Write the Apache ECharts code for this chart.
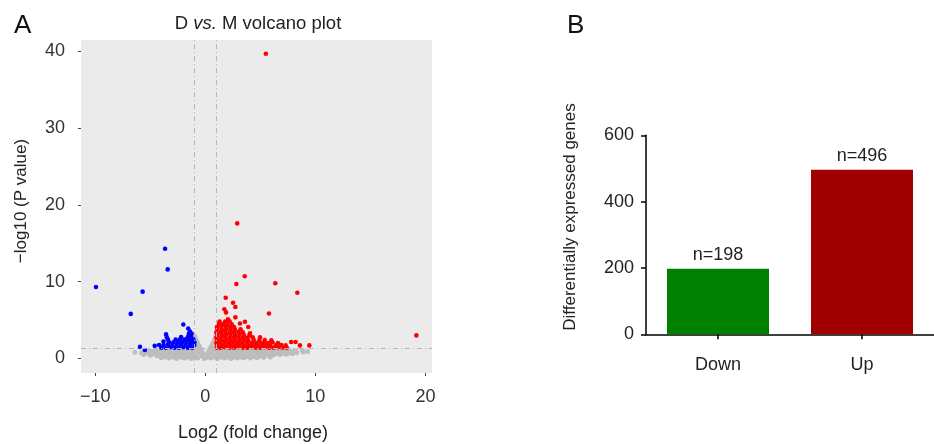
<!DOCTYPE html>
<html>
<head>
<meta charset="utf-8">
<script src="https://cdn.jsdelivr.net/npm/echarts@6/dist/echarts.min.js"></script>
<style>
html,body{margin:0;padding:0;background:#fff;}
#c{width:934px;height:444px;}
</style>
</head>
<body>
<div id="c"></div>
<script>
// ---- Panel A: volcano plot data (log2 fold change, -log10 P) ----
var upPts = [
  [5.5,39.7],[2.9,17.6],[3.58,10.7],[2.82,9.7],[6.36,9.8],[8.36,8.55],[1.85,7.9],[2.52,7.25],
  [2.73,6.7],[1.73,6.4],[1.88,6.0],[2.73,5.35],[5.78,5.85],[19.18,3.0],
  [1.05,1.4],[1.4,1.4],[1.8,1.45],[2.2,1.4],[2.6,1.4],[3.0,1.45],[3.4,1.4],[3.8,1.4],[4.2,1.45],[4.6,1.4],
  [5.0,1.4],[5.4,1.45],[5.8,1.4],[6.2,1.4],[6.6,1.45],[7.0,1.4],[7.4,1.4],
  [1.1,1.7],[1.5,1.7],[1.9,1.75],[2.3,1.7],[2.7,1.7],[3.1,1.75],[3.5,1.7],[3.9,1.7],[4.3,1.75],[4.7,1.7],
  [5.1,1.7],[5.5,1.75],[5.9,1.7],[6.4,1.7],[6.9,1.75],[7.3,1.7],[8.6,1.7],[9.45,1.7],
  [1.0,2.0],[1.35,2.05],[1.75,2.0],[2.15,2.0],[2.55,2.05],[2.95,2.0],[3.35,2.0],[3.8,2.05],[4.2,2.0],
  [4.6,2.0],[5.0,2.05],[5.3,2.0],[5.7,2.0],[6.1,2.1],[6.6,2.0],[7.8,2.15],[8.2,2.15],
  [1.1,2.35],[1.5,2.35],[1.9,2.4],[2.3,2.35],[2.7,2.35],[3.1,2.4],[3.5,2.35],[3.9,2.35],[4.4,2.4],[4.9,2.35],
  [5.4,2.4],[6.0,2.35],
  [1.0,2.7],[1.4,2.7],[1.8,2.75],[2.2,2.7],[2.6,2.7],[3.0,2.75],[3.4,2.7],[3.8,2.7],[4.3,2.75],[4.97,2.74],
  [1.1,3.05],[1.5,3.05],[1.9,3.1],[2.3,3.05],[2.7,3.05],[3.1,3.1],[3.5,3.05],[4.0,3.0],
  [1.0,3.4],[1.4,3.4],[1.8,3.45],[2.2,3.4],[2.6,3.4],[3.0,3.45],[3.4,3.4],[4.06,3.26],
  [1.1,3.75],[1.5,3.75],[1.9,3.8],[2.3,3.75],[2.7,3.75],[3.2,3.8],
  [1.05,4.1],[1.45,4.1],[1.85,4.15],[2.25,4.1],[2.6,4.1],[3.9,4.1],
  [1.2,4.45],[1.6,4.45],[2.0,4.5],[2.4,4.45],[3.15,4.56],
  [1.3,4.8],[1.8,4.8],[2.2,4.85],[3.6,4.77],[2.06,5.1]
];
var downPts = [
  [-9.94,9.3],[-3.66,14.3],[-3.42,11.6],[-5.7,8.7],[-6.78,5.8],[-2.0,4.43],[-1.55,3.9],[-3.57,3.13],
  [-5.94,1.5],[-5.5,1.1],[-4.6,1.64],
  [-4.0,1.4],[-3.6,1.4],[-3.2,1.45],[-2.8,1.4],[-2.4,1.4],[-2.0,1.45],[-1.6,1.4],[-1.2,1.4],
  [-4.2,1.75],[-3.8,1.75],[-3.4,1.8],[-3.0,1.75],[-2.6,1.75],[-2.2,1.8],[-1.8,1.75],[-1.4,1.75],[-1.0,1.75],
  [-3.8,2.2],[-3.3,2.1],[-2.9,2.1],[-2.5,2.15],[-2.1,2.1],[-1.7,2.1],[-1.3,2.15],[-1.0,2.1],
  [-3.4,2.45],[-2.7,2.45],[-2.3,2.5],[-1.9,2.45],[-1.5,2.45],[-1.1,2.5],
  [-3.5,2.75],[-2.2,2.8],[-1.6,2.8],[-1.3,2.85],
  [-1.5,3.2],[-1.25,3.25],[-1.4,3.5]
];
var nsPts = [
  [-4.0,0.1],[-3.3,0.05],[-2.6,0.0],[-1.9,0.05],[-1.3,0.0],[-0.7,0.05],[-0.1,0.0],[0.5,0.05],[1.1,0.0],
  [1.7,0.05],[2.3,0.0],[2.9,0.05],[3.5,0.1],[4.1,0.05],[4.7,0.1],[5.3,0.15],[5.9,0.2],
  [-3.6,0.2],[-2.9,0.2],[-2.2,0.2],[-1.6,0.2],[-1.0,0.2],[0.2,0.15],[0.8,0.2],[1.4,0.2],[2.0,0.2],
  [2.6,0.2],[3.2,0.2],[3.8,0.25],[4.4,0.25],[5.0,0.3],
  [-5.6,0.5],[-5.0,0.4],[-4.4,0.35],[-3.8,0.4],[-3.2,0.35],[-2.6,0.4],[-2.0,0.35],[-1.4,0.4],[-0.8,0.35],
  [-0.3,0.3],[0.3,0.3],[0.8,0.35],[1.4,0.4],[2.0,0.35],[2.6,0.4],[3.2,0.35],[3.8,0.4],[4.4,0.35],[5.0,0.4],
  [5.6,0.45],[6.2,0.45],[6.8,0.5],[7.4,0.55],
  [-4.8,0.55],[-4.1,0.55],[-3.5,0.55],[-2.9,0.55],[-2.3,0.55],[-1.7,0.55],[-1.1,0.55],[1.2,0.55],[1.8,0.55],
  [2.4,0.55],[3.0,0.55],[3.6,0.55],[4.2,0.55],[4.8,0.6],[5.4,0.6],[6.0,0.6],[6.6,0.65],[7.2,0.65],[7.9,0.6],
  [-6.4,0.8],[-5.8,0.75],[-5.2,0.7],[-4.6,0.75],[-4.0,0.7],[-3.4,0.75],[-2.8,0.7],[-2.2,0.75],[-1.6,0.7],
  [-1.1,0.75],[-0.5,0.7],[0.5,0.7],[1.1,0.75],[1.7,0.7],[2.3,0.75],[2.9,0.7],[3.5,0.75],[4.1,0.7],[4.7,0.75],
  [5.3,0.7],[5.9,0.75],[6.5,0.8],[7.1,0.75],[7.7,0.8],[8.3,0.75],[8.9,0.85],[9.3,0.9],
  [-5.5,0.95],[-4.9,0.9],[-4.3,0.9],[-3.7,0.9],[-3.1,0.9],[-2.5,0.9],[-1.9,0.9],[-1.3,0.95],[1.3,0.95],
  [1.9,0.9],[2.5,0.9],[3.1,0.9],[3.7,0.9],[4.3,0.9],[4.9,0.9],[5.5,0.9],[6.1,0.95],[6.7,0.95],[7.3,0.95],[8.0,0.95],
  [-5.2,1.0],[-4.6,1.05],[-4.0,1.1],[-3.4,1.05],[-2.8,1.1],[-2.2,1.05],[-1.6,1.1],[-1.05,1.15],[1.05,1.15],
  [1.6,1.1],[2.2,1.05],[2.8,1.1],[3.4,1.05],[4.0,1.1],[4.6,1.05],[5.2,1.1],[5.8,1.05],[6.4,1.1],[7.0,1.05],
  [7.6,1.1],[8.2,1.0],[8.8,1.05],
  [-0.2,0.6],[-0.3,0.9],[-0.4,1.15],[-0.5,1.45],[-0.6,1.7],[-0.7,2.0],[-0.8,2.3],[-0.9,2.6],[-0.96,2.9],
  [-0.9,2.0],[-0.85,1.5],[-0.75,1.2],[-0.65,1.0],[-0.55,0.8],[-0.9,1.1],[-0.8,1.7],[-0.95,2.3],
  [0.2,0.6],[0.3,0.9],[0.4,1.15],[0.5,1.45],[0.6,1.7],[0.7,2.0],[0.8,2.3],[0.9,2.6],[0.96,2.95],
  [0.9,2.0],[0.85,1.5],[0.75,1.2],[0.65,1.0],[0.55,0.8],[0.9,1.1],[0.8,1.7],[0.95,2.3]
];
var fcCutoffs = [-1, 1];
var pCutoff = 1.3;
var volcanoXTicks = [-10, 0, 10, 20];
var volcanoYTicks = [0, 10, 20, 30, 40];

// ---- Panel B: bar chart data ----
var barCategories = ['Down', 'Up'];
var barValues = [198, 496];
var barLabels = ['n=198', 'n=496'];
var barColors = ['#008000', '#A00000'];

var FONT = "'Liberation Sans', Arial, Helvetica, sans-serif";
var chart = echarts.init(document.getElementById('c'), null, {renderer: 'canvas'});

function fmtMinus(v) { return v < 0 ? '\u2212' + Math.abs(v) : String(v); }

var option = {
  animation: false,
  backgroundColor: '#ffffff',
  textStyle: {fontFamily: FONT},
  title: {
    text: '{a|D }{b|vs.}{a| M volcano plot}',
    left: 253, top: 9, textAlign: 'center',
    textStyle: {
      fontWeight: 'normal',
      rich: {
        a: {fontFamily: FONT, fontSize: 18.5, color: '#222', fontWeight: 'normal'},
        b: {fontFamily: FONT, fontSize: 18.5, color: '#222', fontStyle: 'italic', fontWeight: 'normal'}
      }
    }
  },
  grid: [
    {left: 81, top: 40, width: 351, height: 333, show: true, backgroundColor: '#EBEBEB', borderWidth: 0},
    {left: 646, top: 135.3, width: 299, height: 199}
  ],
  xAxis: [
    {
      gridIndex: 0, type: 'value', min: -11.3, max: 20.6, position: 'bottom',
      axisLine: {show: false, onZero: false},
      splitLine: {show: false},
      axisTick: {show: true, length: 3, customValues: volcanoXTicks, lineStyle: {color: '#444'}},
      axisLabel: {customValues: volcanoXTicks, fontSize: 18, color: '#333', margin: 15, fontFamily: FONT, formatter: fmtMinus}
    },
    {
      gridIndex: 1, type: 'category', data: barCategories,
      axisLine: {show: true, lineStyle: {color: '#000', width: 1.5}},
      axisTick: {show: true, alignWithLabel: true, length: 5, lineStyle: {color: '#000', width: 1.5}},
      axisLabel: {fontSize: 18, color: '#222', margin: 22, fontFamily: FONT},
      splitLine: {show: false}
    }
  ],
  yAxis: [
    {
      gridIndex: 0, type: 'value', min: -1.9, max: 41.5, position: 'left',
      axisLine: {show: false, onZero: false},
      splitLine: {show: false},
      axisTick: {show: true, length: 3, customValues: volcanoYTicks, lineStyle: {color: '#444'}},
      axisLabel: {customValues: volcanoYTicks, fontSize: 18, color: '#333', margin: 16, fontFamily: FONT}
    },
    {
      gridIndex: 1, type: 'value', min: 0, max: 600, interval: 200,
      axisLine: {show: true, lineStyle: {color: '#000', width: 1.5}},
      axisTick: {show: true, length: 5, lineStyle: {color: '#000', width: 1.5}},
      axisLabel: {fontSize: 18, color: '#222', margin: 12, fontFamily: FONT},
      splitLine: {show: false}
    }
  ],
  series: [
    {
      type: 'scatter', xAxisIndex: 0, yAxisIndex: 0, data: [], z: 1, silent: true,
      markLine: {
        silent: true, symbol: 'none', label: {show: false},
        lineStyle: {color: '#b8b8b8', width: 1, type: [5, 3, 1, 3]},
        data: [{xAxis: fcCutoffs[0]}, {xAxis: fcCutoffs[1]}, {yAxis: pCutoff}]
      }
    },
    {
      type: 'scatter', xAxisIndex: 0, yAxisIndex: 0, data: nsPts, z: 2,
      symbolSize: 5, itemStyle: {color: '#BDBDBD', opacity: 1}
    },
    {
      type: 'scatter', xAxisIndex: 0, yAxisIndex: 0, data: downPts, z: 3,
      symbolSize: 4.6, itemStyle: {color: '#0000FF', opacity: 1}
    },
    {
      type: 'scatter', xAxisIndex: 0, yAxisIndex: 0, data: upPts, z: 3,
      symbolSize: 4.6, itemStyle: {color: '#FF0000', opacity: 1}
    },
    {
      type: 'bar', xAxisIndex: 1, yAxisIndex: 1, barWidth: 102,
      data: barValues.map(function (v, i) {
        return {value: v, itemStyle: {color: barColors[i]}};
      }),
      label: {
        show: true, position: 'top', distance: 5, fontSize: 18, color: '#222', fontFamily: FONT,
        formatter: function (p) { return barLabels[p.dataIndex]; }
      }
    }
  ],
  graphic: [
    {type: 'text', left: 14, top: 13, style: {text: 'A', fontSize: 26, fill: '#111', fontFamily: FONT}},
    {type: 'text', left: 567, top: 13, style: {text: 'B', fontSize: 26, fill: '#111', fontFamily: FONT}},
    {type: 'text', x: 21, y: 201, rotation: Math.PI / 2,
      style: {text: '\u2212log10 (P value)', fontSize: 17, fill: '#222', fontFamily: FONT, align: 'center', verticalAlign: 'middle'}},
    {type: 'text', x: 253, y: 433,
      style: {text: 'Log2 (fold change)', fontSize: 18, fill: '#222', fontFamily: FONT, align: 'center', verticalAlign: 'middle'}},
    {type: 'text', x: 570, y: 217, rotation: Math.PI / 2,
      style: {text: 'Differentially expressed genes', fontSize: 17, fill: '#222', fontFamily: FONT, align: 'center', verticalAlign: 'middle'}}
  ]
};
chart.setOption(option);
</script>
</body>
</html>
